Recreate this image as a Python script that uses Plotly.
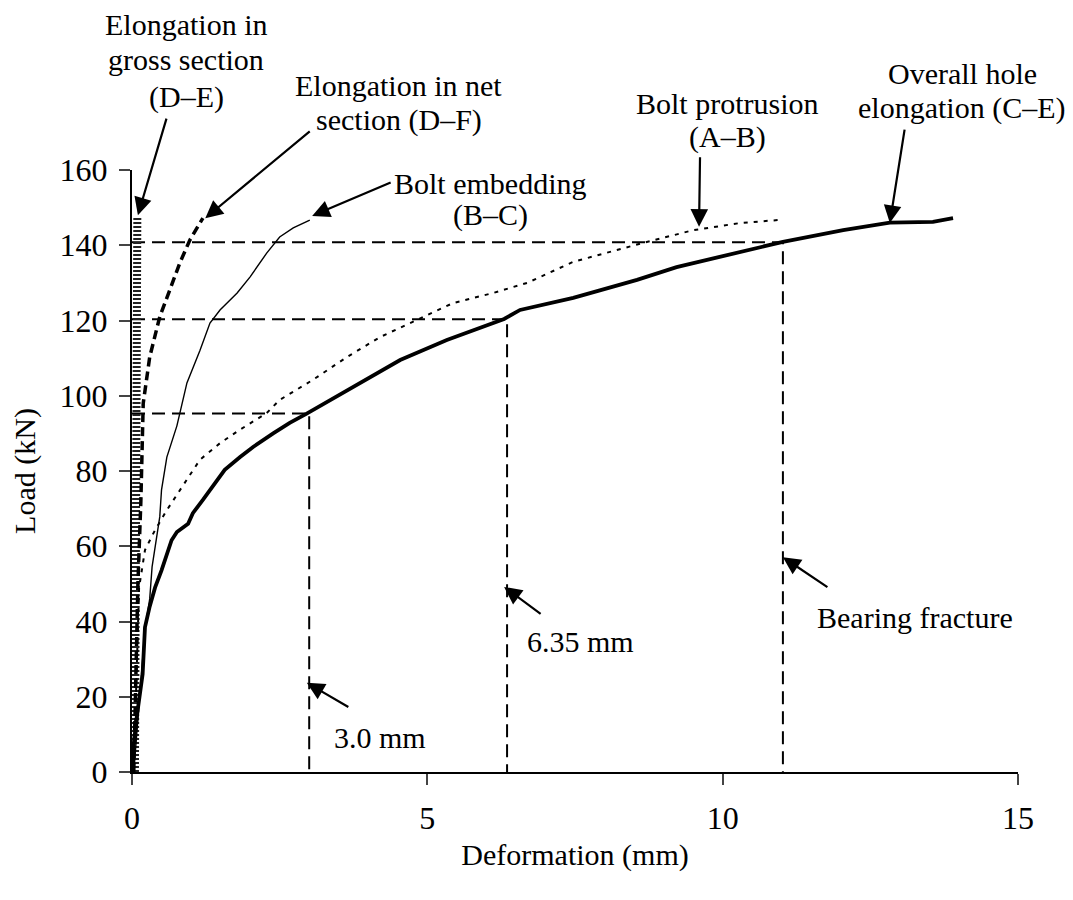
import plotly.graph_objects as go

# ---- data ----
overall_x = [0.0, 0.02, 0.08, 0.18, 0.22, 0.30, 0.39, 0.50, 0.67, 0.76, 0.95, 1.03, 1.20, 1.37, 1.57, 1.83, 2.05, 2.39, 2.67, 2.95,
             3.64, 4.54, 5.33, 6.30, 6.57, 7.47, 7.92, 8.55, 9.22, 11.02, 12.04, 12.83, 13.56, 13.90]
overall_y = [0.0, 6.0, 14.6, 26.0, 38.5, 44.0, 49.0, 53.6, 61.6, 63.8, 66.0, 68.8, 72.3, 75.8, 80.3, 83.7, 86.4, 90.0, 92.8, 95.2,
             101.5, 109.5, 114.8, 120.4, 122.8, 126.0, 128.0, 130.8, 134.2, 140.9, 144.0, 146.0, 146.2, 147.2]

protrusion_x = [0.03, 0.08, 0.12, 0.22, 0.39, 0.59, 0.81, 1.15, 1.49, 1.83, 2.28, 2.50, 3.06, 3.64, 4.20, 4.82, 5.43, 6.11,
                6.69, 7.47, 8.38, 8.65, 9.50, 10.29, 10.94]
protrusion_y = [0.0, 30.0, 49.0, 59.0, 64.3, 69.6, 75.0, 83.0, 87.4, 91.0, 95.4, 98.9, 104.2, 110.3, 115.6, 120.1, 124.6, 127.3,
                130.0, 135.6, 139.5, 140.6, 144.0, 145.9, 146.7]

embedding_x = [0.03, 0.10, 0.18, 0.22, 0.30, 0.34, 0.47, 0.50, 0.59, 0.76, 0.93, 1.15, 1.32, 1.49, 1.78, 2.00, 2.28, 2.50, 2.73, 3.01]
embedding_y = [0.0, 15.0, 30.0, 38.0, 46.0, 54.5, 67.8, 75.0, 83.7, 92.0, 103.4, 112.0, 119.3, 122.8, 127.3, 131.6, 137.9, 142.2, 144.6, 146.7]

net_x = [0.03, 0.10, 0.15, 0.17, 0.19, 0.30, 0.47, 0.59, 0.81, 0.98, 1.20]
net_y = [0.0, 50.0, 72.0, 85.0, 98.0, 110.3, 121.0, 126.0, 135.3, 141.4, 147.2]

gross_x = [0.05, 0.06, 0.07, 0.08, 0.09]
gross_y = [0.0, 40.0, 80.0, 120.0, 147.5]

# reference (guide) values
guide_x = [3.0, 6.35, 11.02]
guide_y = [95.3, 120.3, 140.8]

x_ticks = [0, 5, 10, 15]
y_ticks = [0, 20, 40, 60, 80, 100, 120, 140, 160]

FONT = "Liberation Serif, Times New Roman, serif"
FS = 30
TFS = 32

fig = go.Figure()

# guide dashed lines
for gx, gy in zip(guide_x, guide_y):
    fig.add_trace(go.Scatter(x=[0, gx, gx], y=[gy, gy, 0], mode="lines",
                             line=dict(color="black", width=2, dash="13px,7px"),
                             showlegend=False, hoverinfo="skip"))

fig.add_trace(go.Scatter(x=gross_x, y=gross_y, mode="lines",
                         line=dict(color="#222", width=8, dash="2px,2px"), showlegend=False))
fig.add_trace(go.Scatter(x=protrusion_x, y=protrusion_y, mode="lines",
                         line=dict(color="black", width=2, dash="4px,6px"), showlegend=False))
fig.add_trace(go.Scatter(x=embedding_x, y=embedding_y, mode="lines",
                         line=dict(color="black", width=1.4), showlegend=False))
fig.add_trace(go.Scatter(x=net_x, y=net_y, mode="lines",
                         line=dict(color="black", width=3.5, dash="9px,5px"), showlegend=False))
fig.add_trace(go.Scatter(x=overall_x, y=overall_y, mode="lines",
                         line=dict(color="black", width=3.8), showlegend=False))

# text labels, one line each (paper coordinates relative to the plot area)
labels = [
    ("Elongation in", 0.061, 1.241, "center"),
    ("gross section", 0.061, 1.183, "center"),
    ("(D–E)", 0.061, 1.121, "center"),
    ("Elongation in net", 0.301, 1.141, "center"),
    ("section (D–F)", 0.301, 1.083, "center"),
    ("Bolt embedding", 0.2935, 0.978, "left"),
    ("(B–C)", 0.405, 0.925, "center"),
    ("Bolt protrusion", 0.672, 1.111, "center"),
    ("(A–B)", 0.672, 1.055, "center"),
    ("Overall hole", 0.937, 1.161, "center"),
    ("elongation (C–E)", 0.936, 1.103, "center"),
    ("3.0 mm", 0.280, 0.058, "center"),
    ("6.35 mm", 0.506, 0.216, "center"),
    ("Bearing fracture", 0.884, 0.256, "center"),
]
for txt, lx, ly, anc in labels:
    fig.add_annotation(x=lx, y=ly, xref="paper", yref="paper", text=txt, showarrow=False,
                       font=dict(family=FONT, size=FS, color="black"),
                       xanchor=anc, yanchor="middle", align="center")

# arrows: tip (data) and tail offset (px)
arrows = [
    (0.10, 148.0, 29, -98),
    (1.24, 147.2, 106, -88),
    (3.05, 147.8, 80, -34),
    (9.60, 144.9, 1, -71),
    (12.83, 145.9, 15, -95),
    (2.96, 23.7, 43, 25),
    (6.30, 49.2, 38, 28),
    (11.02, 57.1, 46, 31),
]
for ax_, ay_, dx, dy in arrows:
    fig.add_annotation(x=ax_, y=ay_, xref="x", yref="y", text="", showarrow=True,
                       ax=dx, ay=dy, arrowhead=2, arrowsize=1.6, arrowwidth=2.2,
                       arrowcolor="black", standoff=0, startstandoff=0)

fig.update_layout(
    width=1073, height=900,
    margin=dict(l=124, r=63, t=162, b=136, autoexpand=False),
    paper_bgcolor="white", plot_bgcolor="white",
    font=dict(family=FONT, size=FS, color="black"),
    showlegend=False,
)
fig.update_xaxes(range=[0, 15], tickvals=x_ticks, ticks="outside", ticklen=11, tickwidth=2,
                 showline=True, linecolor="black", linewidth=2, showgrid=False, zeroline=False,
                 ticklabelstandoff=6,
                 tickfont=dict(family=FONT, size=TFS, color="black"),
                 title=dict(text="Deformation (mm)", font=dict(family=FONT, size=FS), standoff=9))
fig.update_yaxes(range=[0, 160], tickvals=y_ticks, ticks="outside", ticklen=11, tickwidth=2,
                 showline=True, linecolor="black", linewidth=2, showgrid=False, zeroline=False,
                 ticklabelstandoff=5,
                 tickfont=dict(family=FONT, size=TFS, color="black"),
                 title=dict(text="Load (kN)", font=dict(family=FONT, size=FS), standoff=18))

fig.write_html("out.html")
